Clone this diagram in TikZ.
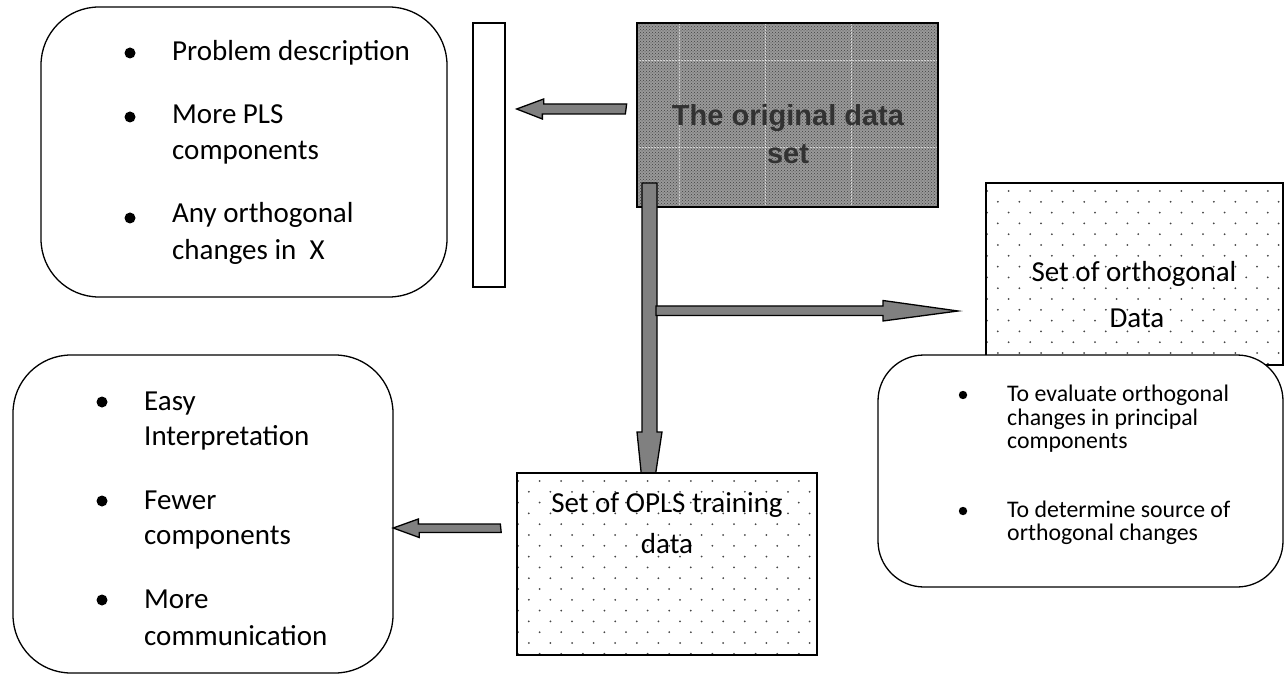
\documentclass[tikz,border=0pt]{standalone}
\usepackage{fontspec}
\setmainfont{Carlito}
\newfontfamily\arialfont{Liberation Sans}
\usetikzlibrary{patterns,calc}
\definecolor{arrowgray}{RGB}{128,128,128}
\definecolor{dotc}{RGB}{70,70,70}
\definecolor{origtext}{RGB}{50,50,50}
\newcommand\mydotgrid[4]{%
  \begin{scope}
    \clip (#1,#2) rectangle (#3,#4);
    \foreach \r in {0,...,18}{
      \foreach \c in {0,...,15}{
        \pgfmathsetmacro\xx{#1+1+\c*21.6+mod(\r,2)*10.8}
        \pgfmathsetmacro\yy{#2+8+\r*10.8}
        \fill[dotc] (\xx,\yy) circle[radius=1pt];
      }}
  \end{scope}}
\tikzset{
  bigtxt/.style={font=\fontsize{29}{36}\selectfont, anchor=base west, inner sep=0pt},
  smalltxt/.style={font=\fontsize{23.8}{24}\selectfont, anchor=base west, inner sep=0pt},
  midtxt/.style={font=\fontsize{29}{36}\selectfont, anchor=base, inner sep=0pt},
  origtxt/.style={font=\arialfont\bfseries\fontsize{29}{36}\selectfont, text=origtext, anchor=base, inner sep=0pt},
  roundbox/.style={draw=black, line width=1.3pt, fill=white, rounded corners=#1},
  plainbox/.style={draw=black, line width=1.3pt},
  barrow/.style={fill=arrowgray, draw=black, line width=1.3pt, line join=miter},
  bigbullet/.style={fill=black},
}
\begin{document}
\begin{tikzpicture}[x=1pt,y=-1pt]
\useasboundingbox (0,0) rectangle (1285,676);

% ---------- original data set ----------
\fill[black!40] (637,23) rectangle (938,207);
\fill[pattern=crosshatch dots, pattern color=black!75] (637,23) rectangle (938,207);
\foreach \gx in {679,765,851} \draw[white, densely dotted, line width=0.5pt, opacity=0.6] (\gx,23) -- (\gx,207);
\foreach \gy in {60,147} \draw[white, densely dotted, line width=0.5pt, opacity=0.6] (637,\gy) -- (938,\gy);
\node[plainbox, minimum width=301pt, minimum height=184pt, inner sep=0pt] (orig) at (787.5,115) {};
\node[origtxt] (origA) at (788,126) {The original data};
\node[origtxt] (origB) at (788,164) {set};

% ---------- top-left rounded box ----------
\draw[roundbox=58pt] (41,7) rectangle (447,297);
\node[inner sep=0pt, minimum width=406pt, minimum height=290pt] (boxA) at (244,152) {};
\fill[bigbullet] (130,53) circle[radius=5.5pt];
\node[bigtxt] (a1) at (172,61) {Problem description};
\fill[bigbullet] (130,117) circle[radius=5.5pt];
\node[bigtxt] (a2) at (172,124) {More PLS};
\node[bigtxt] (a3) at (172,160) {components};
\fill[bigbullet] (130,218) circle[radius=5.5pt];
\node[bigtxt] (a4) at (172,223) {Any orthogonal};
\node[bigtxt] (a5) at (172,260) {changes in~ X};

% ---------- narrow rectangle ----------
\node[plainbox, fill=white, minimum width=32pt, minimum height=264pt, inner sep=0pt] (narrow) at (489,155) {};

% ---------- arrow: original -> narrow ----------
\coordinate (a1s) at ($(orig.west)+(-11,-6)$);
\coordinate (a1e) at ($(narrow.east)+(11,-46)$);
\draw[barrow] (a1s) ++(0,5) -- ++(-83,0) -- ++(0,5) -- (a1e) -- ++(27,-10) -- ++(0,5) -- ++(83,0) -- cycle;

% ---------- vertical arrow: original -> OPLS ----------
\coordinate (vs) at (647,183);
\coordinate (ve) at (647,530);
\draw[barrow] (vs) ++(-5,0) -- ++(0,249) -- ++(-5,0) -- (ve) -- ++(15,-98) -- ++(-5,0) -- ++(0,-249) -- cycle;

% ---------- horizontal arrow: -> orthogonal data ----------
\coordinate (hs) at (656,310.5);
\coordinate (he) at (958,311);
\draw[barrow] (hs) ++(0,-4.5) -- ++(227,0) -- ++(0,-5.5) -- (he) -- ++(-75,10) -- ++(0,-5.5) -- ++(-227,0) -- cycle;

% ---------- set of orthogonal data ----------
\fill[white] (986,183) rectangle (1283,365);
\mydotgrid{986}{183}{1283}{365}
\node[plainbox, minimum width=297pt, minimum height=182pt, inner sep=0pt] (orth) at (1134.5,274) {};
\node[midtxt] (orthA) at (1134,282) {Set of orthogonal};
\node[midtxt] (orthB) at (1137,327) {Data};

% ---------- right rounded box ----------
\draw[roundbox=46pt] (878,355) rectangle (1283,587);
\node[inner sep=0pt, minimum width=405pt, minimum height=232pt] (boxC) at (1080.5,471) {};
\fill[bigbullet] (963,395) circle[radius=4.2pt];
\node[smalltxt] (c1) at (1007,401) {To evaluate orthogonal};
\node[smalltxt] (c2) at (1007,425) {changes in principal};
\node[smalltxt] (c3) at (1007,448) {components};
\fill[bigbullet] (963,511) circle[radius=4.2pt];
\node[smalltxt] (c4) at (1007,517) {To determine source of};
\node[smalltxt] (c5) at (1007,540) {orthogonal changes};

% ---------- OPLS training data ----------
\fill[white] (517,473) rectangle (817,655);
\mydotgrid{517}{473}{817}{655}
\node[plainbox, minimum width=300pt, minimum height=182pt, inner sep=0pt] (opls) at (667,564) {};
\node[midtxt] (oplsA) at (667,512) {Set of OPLS training};
\node[midtxt] (oplsB) at (667,553) {data};

% ---------- bottom-left rounded box ----------
\draw[roundbox=58pt] (13,355) rectangle (393,673);
\node[inner sep=0pt, minimum width=380pt, minimum height=318pt] (boxB) at (203,514) {};
\fill[bigbullet] (102,402) circle[radius=5.5pt];
\node[bigtxt] (b1) at (144,410) {Easy};
\node[bigtxt] (b2) at (144,445) {Interpretation};
\fill[bigbullet] (102,501) circle[radius=5.5pt];
\node[bigtxt] (b3) at (144,509) {Fewer};
\node[bigtxt] (b4) at (144,544) {components};
\fill[bigbullet] (102,600) circle[radius=5.5pt];
\node[bigtxt] (b5) at (144,608) {More};
\node[bigtxt] (b6) at (144,645) {communication};

% ---------- arrow: OPLS -> bottom-left box ----------
\coordinate (ls) at ($(opls.west)+(-16,-35.5)$);
\coordinate (le) at ($(boxB.east)+(0,14)$);
\draw[barrow] (ls) ++(0,-4.5) -- ++(-82,0) -- ++(0,-5) -- (le) -- ++(26,9.5) -- ++(0,-5) -- ++(82,0) -- cycle;
\end{tikzpicture}
\end{document}
